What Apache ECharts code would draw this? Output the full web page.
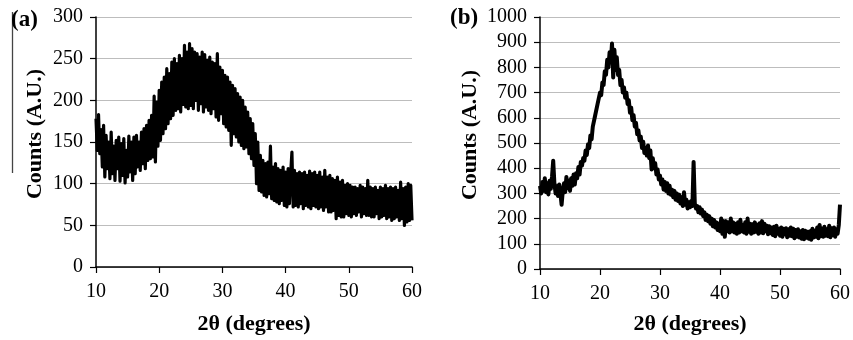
<!DOCTYPE html>
<html>
<head>
<meta charset="utf-8">
<title>XRD patterns</title>
<script src="https://cdn.jsdelivr.net/npm/echarts@6/dist/echarts.min.js"></script>
<style>
  html, body { margin: 0; padding: 0; background: #fff; }
  #chart { width: 853px; height: 340px; }
</style>
</head>
<body>
<div id="chart"></div>
<script>
// Diffractometer scan: 10°–60° 2θ, sampled every 0.2°
const scanStart = 10;
const scanStep = 0.2;

// Panel (a) counts, five readings per degree
const countsA = [
  178, 140, 183, 136, 165,
  120, 170, 108, 158, 118,
  150, 106, 162, 112, 145,
  104, 152, 118, 156, 103,
  148, 110, 154, 101, 140,
  108, 157, 114, 150, 104,
  156, 112, 158, 120, 150,
  116, 162, 124, 166, 118,
  170, 128, 176, 130, 182,
  132, 205, 126, 198, 145,
  212, 152, 222, 160, 228,
  166, 238, 172, 232, 178,
  246, 182, 250, 188, 244,
  190, 254, 186, 250, 195,
  266, 192, 258, 190, 268,
  194, 262, 190, 258, 200,
  256, 188, 252, 196, 258,
  186, 255, 192, 248, 188,
  252, 184, 246, 190, 244,
  180, 256, 176, 240, 184,
  236, 172, 230, 168, 228,
  164, 222, 146, 218, 160,
  214, 156, 208, 150, 204,
  146, 200, 142, 192, 144,
  186, 136, 178, 130, 172,
  122, 160, 100, 150, 92,
  134, 90, 128, 86, 124,
  84, 126, 88, 145, 82,
  120, 80, 124, 78, 118,
  76, 116, 80, 120, 74,
  114, 72, 118, 76, 112,
  138, 72, 116, 74, 112,
  72, 114, 76, 112, 70,
  114, 74, 110, 72, 115,
  70, 112, 74, 114, 72,
  110, 70, 114, 72, 108,
  68, 116, 72, 108, 66,
  110, 66, 106, 68, 104,
  58, 108, 62, 102, 60,
  104, 60, 98, 64, 100,
  62, 98, 60, 96, 64,
  96, 62, 94, 66, 98,
  60, 96, 64, 94, 62,
  104, 62, 96, 60, 94,
  60, 96, 64, 92, 58,
  96, 60, 94, 62, 98,
  58, 94, 60, 96, 56,
  94, 58, 96, 60, 92,
  56, 102, 58, 94, 50,
  96, 54, 100, 56, 98,
  56
];

// Panel (b) counts, five readings per degree
const countsB = [
  330, 300, 345, 310, 360,
  305, 340, 296, 350, 318,
  365, 430, 340, 300, 328,
  290, 335, 300, 255, 310,
  340, 305, 365, 320, 350,
  310, 360, 330, 375, 335,
  380, 360, 405, 375, 425,
  410, 440, 430, 470, 452,
  495, 480, 530, 515, 565,
  560, 610, 605, 655, 650,
  700, 690, 740, 730, 785,
  770, 830, 800, 860, 820,
  895, 760, 870, 790, 840,
  770, 790, 730, 750, 700,
  720, 680, 700, 655, 670,
  620, 640, 590, 610, 565,
  580, 535, 550, 510, 525,
  480, 505, 460, 480, 450,
  490, 440, 470, 395, 440,
  400, 420, 375, 395, 355,
  370, 335, 355, 315, 345,
  310, 340, 300, 330, 295,
  315, 285, 310, 275, 300,
  270, 295, 260, 285, 250,
  305, 255, 275, 240, 265,
  245, 270, 250, 425, 260,
  240, 250, 225, 245, 220,
  235, 210, 225, 195, 215,
  190, 210, 180, 200, 170,
  195, 165, 185, 155, 180,
  150, 200, 140, 190, 128,
  190, 150, 185, 145, 200,
  150, 185, 145, 180, 140,
  185, 145, 195, 150, 175,
  145, 185, 140, 200, 148,
  180, 140, 178, 145, 185,
  148, 176, 140, 182, 145,
  190, 142, 180, 150, 172,
  138, 170, 142, 165, 135,
  168, 130, 172, 140, 160,
  132, 165, 128, 160, 138,
  162, 126, 158, 132, 165,
  130, 160, 122, 155, 128,
  158, 125, 150, 120, 155,
  118, 152, 124, 148, 120,
  150, 116, 160, 125, 152,
  128, 165, 122, 175, 130,
  160, 128, 168, 132, 158,
  130, 172, 126, 162, 134,
  165, 128, 158, 140, 175,
  255
];

// Axis settings
const xTicks = { min: 10, max: 60, interval: 10 };
const yTicksA = { min: 0, max: 300, interval: 50 };
const yTicksB = { min: 0, max: 1000, interval: 100 };
const panelLabels = ['(a)', '(b)'];
const xTitle = '2θ (degrees)';
const yTitle = 'Counts (A.U.)';

function withAngles(counts) {
  return counts.map((c, i) => [+(scanStart + i * scanStep).toFixed(1), c]);
}

const serif = '"Liberation Serif", "Times New Roman", serif';

function xAxisFor(gridIndex, gap, labelMargin) {
  return {
    gridIndex, type: 'value', min: xTicks.min, max: xTicks.max, interval: xTicks.interval,
    name: xTitle, nameLocation: 'middle', nameGap: gap,
    nameTextStyle: { fontFamily: serif, fontWeight: 'bold', fontSize: 22, color: '#000' },
    axisLine: { lineStyle: { color: '#000', width: 1.5 } },
    axisTick: { show: true, length: 6, lineStyle: { color: '#000', width: 1.2 } },
    axisLabel: { fontFamily: serif, fontSize: 20, color: '#000', margin: labelMargin },
    splitLine: { show: false }
  };
}

function yAxisFor(gridIndex, ticks, gap) {
  return {
    gridIndex, type: 'value', min: ticks.min, max: ticks.max, interval: ticks.interval,
    name: yTitle, nameLocation: 'middle', nameGap: gap,
    nameTextStyle: { fontFamily: serif, fontWeight: 'bold', fontSize: 22, color: '#000', padding: [0, 0, 0, 16] },
    axisLine: { show: true, lineStyle: { color: '#000', width: 1.5 } },
    axisTick: { show: true, length: 6, lineStyle: { color: '#000', width: 1.2 } },
    axisLabel: { fontFamily: serif, fontSize: 20, color: '#000', margin: 13, formatter: v => String(v) },
    splitLine: { show: true, lineStyle: { color: '#bdbdbd', width: 1.2 } }
  };
}

const chart = echarts.init(document.getElementById('chart'), null, { renderer: 'canvas' });

chart.setOption({
  animation: false,
  backgroundColor: '#fff',
  grid: [
    { left: 96, right: 441, top: 17, bottom: 72 },
    { left: 540, right: 13, top: 17, bottom: 68 }
  ],
  xAxis: [xAxisFor(0, 46, 15), xAxisFor(1, 44, 15)],
  yAxis: [yAxisFor(0, yTicksA, 50), yAxisFor(1, yTicksB, 59)],
  series: [
    {
      type: 'line', xAxisIndex: 0, yAxisIndex: 0, data: withAngles(countsA),
      symbol: 'none', lineStyle: { color: '#000', width: 3.2, join: 'round' }
    },
    {
      type: 'line', xAxisIndex: 1, yAxisIndex: 1, data: withAngles(countsB),
      symbol: 'none', lineStyle: { color: '#000', width: 4, join: 'round' }
    }
  ],
  graphic: [
    { type: 'line', shape: { x1: 12.5, y1: 12, x2: 12.5, y2: 173 }, style: { stroke: '#444', lineWidth: 1.3 } },
    { type: 'text', left: 11, top: 9, style: { text: panelLabels[0], font: 'bold 23px ' + serif, fill: '#000' } },
    { type: 'text', left: 450, top: 7, style: { text: panelLabels[1], font: 'bold 23px ' + serif, fill: '#000' } }
  ]
});
</script>
</body>
</html>
